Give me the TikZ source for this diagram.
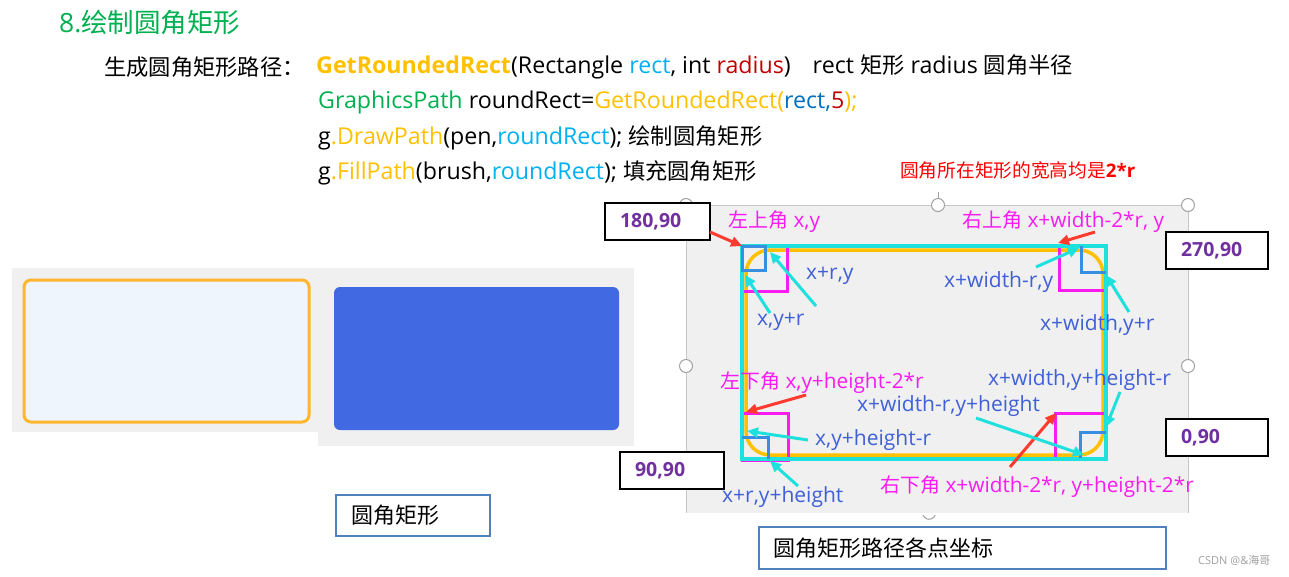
\documentclass[tikz,border=0pt]{standalone}
\usepackage{fontspec}
\setmainfont{Open Sans}
\newfontfamily\cjk{Noto Sans CJK SC}
\newfontfamily\cjks[Scale=0.96]{Noto Sans CJK SC}
\usetikzlibrary{arrows.meta}
\definecolor{tgreen}{HTML}{00B050}
\definecolor{torange}{HTML}{FFC000}
\definecolor{tcyan}{HTML}{00B0F0}
\definecolor{tdred}{HTML}{C00000}
\definecolor{tblue}{HTML}{0070C0}
\definecolor{lblue}{HTML}{4060D8}
\definecolor{mag}{HTML}{F81CF0}
\definecolor{purp}{HTML}{7030A0}
\definecolor{acyan}{HTML}{1EE0DC}
\definecolor{panel}{HTML}{F0F0F0}
\definecolor{rblue}{HTML}{4169E1}
\definecolor{boxblue}{HTML}{4F81BD}
\definecolor{ored}{HTML}{FF3B30}
\definecolor{sqblue}{HTML}{3A8EE0}
\definecolor{oborder}{HTML}{FFB52E}
\definecolor{alice}{HTML}{EEF5FD}
\definecolor{hgrey}{HTML}{A0A0A0}
\tikzset{
  txt/.style={anchor=west,inner sep=0pt},
  codeline/.style={txt,font=\fontsize{23.2}{27}\selectfont},
  lbl/.style={txt,font=\fontsize{21}{25}\selectfont,text=lblue},
  mlbl/.style={txt,font=\fontsize{20.8}{25}\selectfont,text=mag},
  numbox/.style={draw=black,line width=2pt,fill=white,anchor=north west,inner xsep=15pt,inner ysep=0pt,
    minimum height=37pt,align=left,font=\fontsize{19.5}{22}\selectfont\bfseries,text=purp},
  capbox/.style={draw=boxblue,line width=2pt,fill=white,anchor=north west,inner xsep=14pt,inner ysep=0pt,
    align=left,font=\fontsize{22}{26}\selectfont},
  redarrow/.style={ored,line width=3pt,-{Triangle[length=11pt,width=10pt]}},
  cyanarrow/.style={acyan,line width=3pt,-{Triangle[length=11pt,width=10pt]}},
  handle/.style={draw=hgrey,line width=1pt,fill=white},
}
\begin{document}
\begin{tikzpicture}[x=1pt,y=-1pt]
\useasboundingbox (0,0) rectangle (1289,576);
% ---------- header text ----------
\node[txt,font=\fontsize{26.5}{30}\selectfont,text=tgreen] (title) at (59,22) {8.{\cjk 绘制圆角矩形}};
\node[codeline] (l2a) at (104,67) {\cjks 生成圆角矩形路径：};
\node[codeline] (l2b) at (316,67) {\textbf{\color{torange}GetRoundedRect}(Rectangle {\color{tcyan}rect}, int {\color{tdred}radius})\hspace{22pt}rect {\cjks 矩形} radius {\cjks 圆角半径}};
\node[codeline] (l3) at (318,102) {{\color{tgreen}GraphicsPath} roundRect={\color{torange}GetRoundedRect(}{\color{tblue}rect,}{\color{tdred}5}{\color{torange});}};
\node[codeline] (l4) at (318,138) {g{\color{torange}.DrawPath}(pen,{\color{tcyan}roundRect}); {\cjks 绘制圆角矩形}};
\node[codeline] (l5) at (318,173) {g{\color{torange}.FillPath}(brush,{\color{tcyan}roundRect}); {\cjks 填充圆角矩形}};
% ---------- left samples ----------
\fill[panel] (12,268) rectangle (318,432);
\fill[panel] (318,268) rectangle (634,446);
\draw[oborder,line width=3pt,fill=alice,rounded corners=7pt] (24,280) rectangle (309,422);
\fill[rblue,rounded corners=6pt] (334,287) rectangle (619,430);
\node[capbox,minimum width=154pt,minimum height=41pt,text width=124pt] (cap1) at (335,494) {\cjk 圆角矩形};
% ---------- right panel ----------
\fill[panel] (686,205) rectangle (1188,513);
\draw[hgrey!60,line width=0.8pt] (686,513) -- (686,205) -- (1188,205) -- (1188,513);
\draw[hgrey,line width=1pt] (938,192) -- (938,198);
\node[handle,circle,minimum size=13pt,inner sep=0pt] (h1) at (686,205) {};
\node[handle,circle,minimum size=13pt,inner sep=0pt] (h2) at (938,205) {};
\node[handle,circle,minimum size=13pt,inner sep=0pt] (h3) at (1188,205) {};
\node[handle,circle,minimum size=13pt,inner sep=0pt] (h4) at (686,366) {};
\node[handle,circle,minimum size=13pt,inner sep=0pt] (h5) at (1188,366) {};
\draw[hgrey,line width=1pt] (923,515) arc[start angle=200,end angle=340,radius=6.5pt];
% rounded rect and helper squares
\draw[torange,line width=3.5pt,rounded corners=24pt] (746,250) rectangle (1103,455);
\draw[mag,line width=3pt] (742,246) rectangle (787,291);
\draw[mag,line width=3pt] (1059,246) rectangle (1106,290);
\draw[mag,line width=3pt] (742,413) rectangle (788,460);
\draw[mag,line width=3pt] (1055,413) rectangle (1106,458);
\draw[acyan,line width=3.5pt] (742,246) rectangle (1106,459);
\draw[sqblue,line width=3pt] (742,246) rectangle (765,270);
\draw[sqblue,line width=3pt] (1081,246) -- (1081,272) -- (1106,272);
\draw[sqblue,line width=3pt] (742,437) -- (768,437) -- (768,459);
\draw[sqblue,line width=3pt] (1080,458) -- (1080,432) -- (1106,432);
% ---------- labels ----------
\node[txt,font=\fontsize{18.7}{22}\selectfont,text=red] (note) at (900,170) {{\cjk 圆角所在矩形的宽高均是}\textbf{2*r}};
\node[mlbl] (tl) at (728,222) {{\cjks 左上角} x,y};
\node[mlbl] (tr) at (962,222) {{\cjks 右上角} x+width-2*r, y};
\node[lbl] (p1) at (806,276) {x+r,y};
\node[lbl] (p2) at (757,322) {x,y+r};
\node[lbl] (p3) at (944,282) {x+width-r,y};
\node[lbl] (p4) at (1040,325) {x+width,y+r};
\node[mlbl] (bl) at (720,383) {{\cjks 左下角} x,y+height-2*r};
\node[lbl] (p5) at (988,380) {x+width,y+height-r};
\node[lbl] (p6) at (857,406) {x+width-r,y+height};
\node[lbl] (p7) at (815,440) {x,y+height-r};
\node[lbl] (p8) at (722,497) {x+r,y+height};
\node[mlbl] (br) at (880,487) {{\cjks 右下角} x+width-2*r, y+height-2*r};
% ---------- angle boxes ----------
\node[numbox,minimum width=105pt,text width=75pt] (b180) at (604,202) {180,90};
\node[numbox,minimum width=102pt,text width=72pt] (b270) at (1165,231) {270,90};
\node[numbox,minimum width=102pt,text width=72pt] (b0) at (1165,418) {0,90};
\node[numbox,minimum width=104pt,text width=74pt] (b90) at (619,451) {90,90};
\node[capbox,minimum width=407pt,minimum height=42pt,text width=379pt] (cap2) at (758,526) {\cjk 圆角矩形路径各点坐标};
\node[txt,font=\fontsize{11}{13}\selectfont,text=hgrey] (wm) at (1198,560) {CSDN @\&{\cjk 海哥}};
% ---------- arrows ----------
\coordinate (r1s) at (710,232); \coordinate (r1e) at (742,246);
\coordinate (r2s) at (1095,232); \coordinate (r2e) at (1058,243);
\coordinate (r3s) at (806,395); \coordinate (r3e) at (746,412);
\coordinate (r4s) at (1010,467); \coordinate (r4e) at (1056,413);
\draw[redarrow] (r1s) -- (r1e);
\draw[redarrow] (r2s) -- (r2e);
\draw[redarrow] (r3s) -- (r3e);
\draw[redarrow] (r4s) -- (r4e);
\coordinate (c1s) at (770,313); \coordinate (c1e) at (745,275);
\coordinate (c2s) at (816,306); \coordinate (c2e) at (770,252);
\coordinate (c3s) at (1036,267); \coordinate (c3e) at (1079,248);
\coordinate (c4s) at (1129,312); \coordinate (c4e) at (1106,275);
\coordinate (c5s) at (808,440); \coordinate (c5e) at (747,431);
\coordinate (c6s) at (798,486); \coordinate (c6e) at (770,461);
\coordinate (c7s) at (976,418); \coordinate (c7e) at (1084,455);
\coordinate (c8s) at (1120,392); \coordinate (c8e) at (1106,427);
\foreach \i in {1,...,8} {\draw[cyanarrow] (c\i s) -- (c\i e);}
\end{tikzpicture}
\end{document}
